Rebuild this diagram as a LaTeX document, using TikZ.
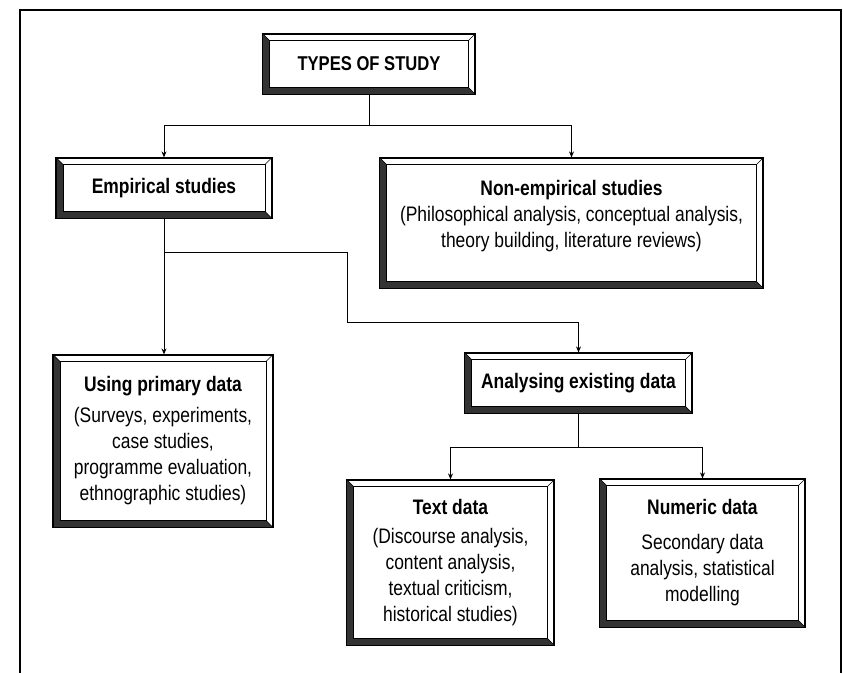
\documentclass[tikz,border=0pt]{standalone}
\usepackage{fontspec}
\setmainfont{Liberation Sans}[FakeStretch=0.83]
\usetikzlibrary{arrows.meta, positioning, calc}
\newcommand{\bevelw}{7}

\begin{document}
\begin{tikzpicture}[x=1pt, y=1pt, align=center,
  bevelbox/.style={draw, line width=1.2pt, fill=white, inner sep=0pt, font=\fontsize{21}{26}\selectfont},
  bevelshade/.style={fill=black!80},
  link/.style={line width=0.9pt},
  arrowlink/.style={link, -{Stealth[length=6pt, width=5pt]}}]
  \useasboundingbox (0,0) rectangle (843,673);
  \draw[line width=1.4pt] (20,0) -- (20,663) -- (841,663) -- (841,0);

  \node (types) [bevelbox, minimum width=212pt, minimum height=60pt, font=\fontsize{20}{24}\selectfont] at (369,609) {\textbf{TYPES OF STUDY}};
  \node (empirical) [bevelbox, minimum width=215pt, minimum height=60pt] at (164,485) {\textbf{Empirical studies}};
  \node (nonemp) [bevelbox, minimum width=383pt, minimum height=130pt] at (571.5,450) {\textbf{Non-empirical studies}\\(Philosophical analysis, conceptual analysis,\\theory building, literature reviews)\\[-8pt]\mbox{}};
  \node (primary) [bevelbox, minimum width=219pt, minimum height=172pt] at (163,232) {\textbf{Using primary data}\\[5pt](Surveys, experiments,\\case studies,\\programme evaluation,\\ethnographic studies)};
  \node (existing) [bevelbox, minimum width=227pt, minimum height=60pt] at (578.5,290) {\textbf{Analysing existing data}};
  \node (textdata) [bevelbox, minimum width=207pt, minimum height=165pt] at (450.5,110.5) {\textbf{Text data}\\[3pt](Discourse analysis,\\content analysis,\\textual criticism,\\historical studies)};
  \node (numeric) [bevelbox, minimum width=205pt, minimum height=148pt] at (702.5,120) {\textbf{Numeric data}\\[9pt]Secondary data\\analysis, statistical\\modelling};

  \coordinate (topjoin) at (369,548);
  \draw[link] (types.south) -- (topjoin);
  \draw[arrowlink] (topjoin) -| (empirical.north);
  \draw[arrowlink] (topjoin) -| (nonemp.north);

  \coordinate (empjoin) at (164,421);
  \coordinate (midbend) at (347,351);
  \draw[arrowlink] (empirical.south) -- (empirical.south |- primary.north);
  \draw[arrowlink] (empjoin) -| (midbend) -| (existing.north);

  \coordinate[below=34pt of existing.south] (datajoin);
  \draw[link] (existing.south) -- (datajoin);
  \draw[arrowlink] (datajoin) -| (textdata.north);
  \draw[arrowlink] (datajoin) -| (numeric.north);

  \foreach \n in {types,empirical,nonemp,primary,existing,textdata,numeric}{
    \fill[bevelshade] (\n.north west) -- (\n.south west) -- (\n.south east)
      -- ([shift={(-\bevelw,\bevelw)}]\n.south east) -- ([shift={(\bevelw,\bevelw)}]\n.south west)
      -- ([shift={(\bevelw,-\bevelw)}]\n.north west) -- cycle;
    \draw[thin] ([shift={(\bevelw,\bevelw)}]\n.south west) rectangle ([shift={(-\bevelw,-\bevelw)}]\n.north east);
    \draw[thin] (\n.north west) -- ([shift={(\bevelw,-\bevelw)}]\n.north west);
    \draw[thin] (\n.north east) -- ([shift={(-\bevelw,-\bevelw)}]\n.north east);
    \draw[thin] (\n.south east) -- ([shift={(-\bevelw,\bevelw)}]\n.south east);
    \draw[line width=1.2pt] (\n.north west) rectangle (\n.south east);
  }
\end{tikzpicture}
\end{document}
